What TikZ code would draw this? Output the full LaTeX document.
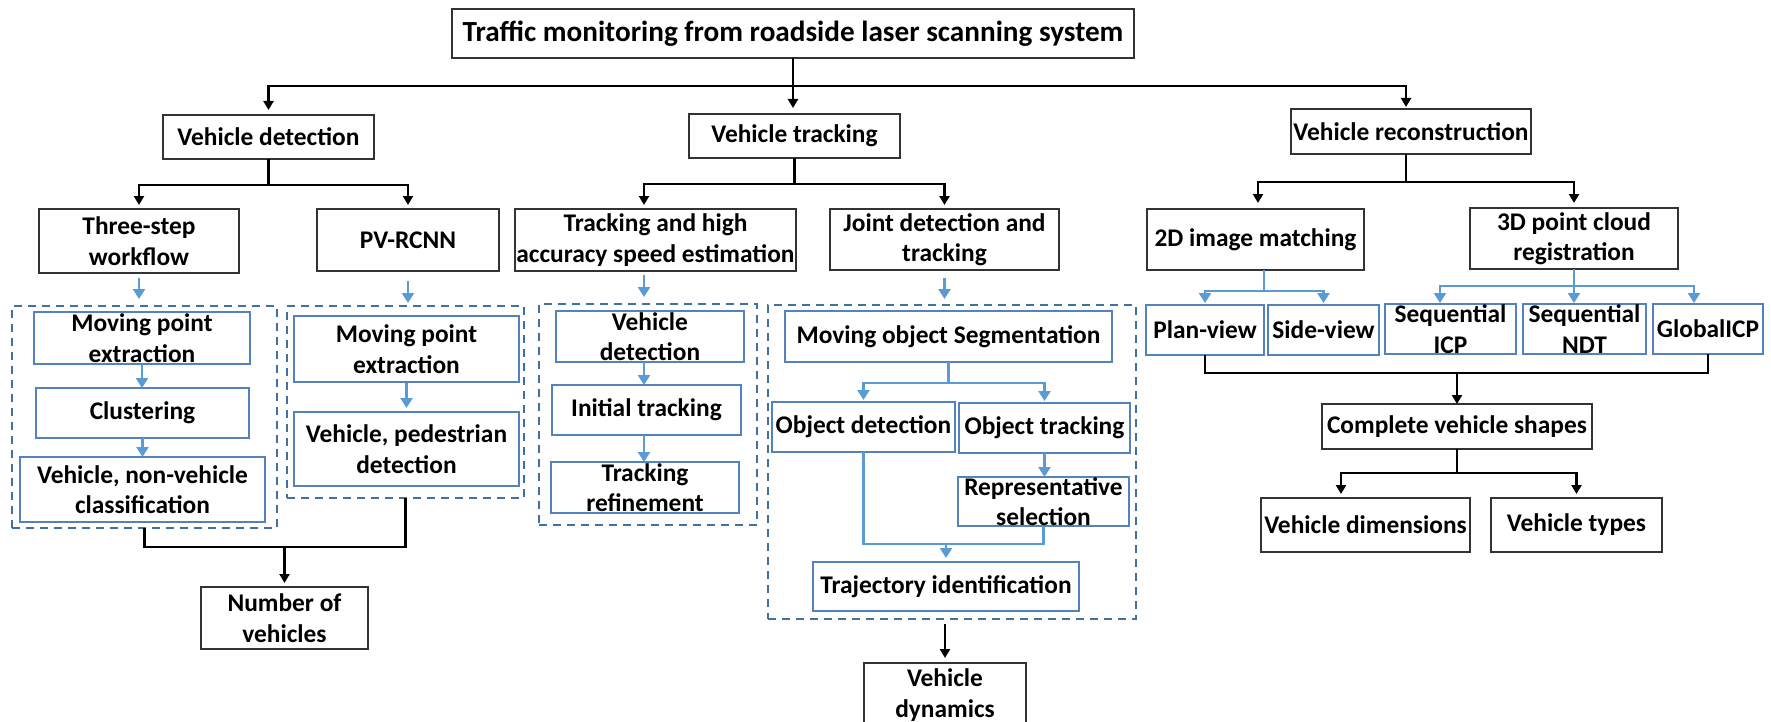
\documentclass[tikz,border=0pt]{standalone}
\usepackage{fontspec}
\setmainfont{Carlito}
\usetikzlibrary{fit,arrows.meta}
\definecolor{boxblue}{RGB}{84,130,190}
\definecolor{arrblue}{RGB}{91,155,213}
\definecolor{dashblue}{RGB}{65,113,156}
\tikzset{
  base/.style={inner sep=0pt, outer sep=0pt, fill=white},
  blkbox/.style={base, draw=black!80, line width=0.8pt},
  blubox/.style={base, draw=boxblue, line width=0.6pt},
  dshbox/.style={inner sep=0pt, outer sep=0pt, draw=dashblue, line width=1.2pt, dash pattern=on 4pt off 3pt},
  lbl/.style={font=\bfseries\fontsize{12.7}{15.2}\selectfont, align=center, inner sep=0pt},
  ttl/.style={font=\bfseries\fontsize{14.6}{17}\selectfont, align=center, inner sep=0pt},
  blkln/.style={draw=black, line width=1.2pt},
  blkarr/.style={blkln, -{Triangle[length=4.5pt,width=5pt]}},
  bluln/.style={draw=arrblue, line width=1.2pt},
  bluarr/.style={bluln, -{Triangle[length=5pt,width=6pt]}},
}
\newcommand\mybox[5]{\node[#1, fit={(#2) (#3)}, label={[lbl]center:{#5}}] (#4) {};}
\begin{document}
\begin{tikzpicture}[x=0.5pt,y=-0.5pt]
\useasboundingbox (0,0) rectangle (1771,722);
\clip (0,0) rectangle (1771,722);
% dashed groups
\node[dshbox, fit={(12,306) (277,528)}] (dash1) {};
\node[dshbox, fit={(287,306) (524,498)}] (dash2) {};
\node[dshbox, fit={(539,304) (757,525)}] (dash3) {};
\node[dshbox, fit={(768,305) (1136,619)}] (dash4) {};
% black boxes
\node[blkbox, fit={(452,9) (1134,58)}, label={[ttl]center:{Traffic monitoring from roadside laser scanning system}}] (title) {};
\mybox{blkbox}{163,115}{374,159}{vdet}{Vehicle detection}
\mybox{blkbox}{689,114}{900,158}{vtrk}{Vehicle tracking}
\mybox{blkbox}{1291,109}{1531,154}{vrec}{Vehicle reconstruction}
\mybox{blkbox}{39,209}{239,273}{three}{Three-step\\workflow}
\mybox{blkbox}{317,209}{499,271}{pvr}{PV-RCNN}
\mybox{blkbox}{515,209}{796,271}{thas}{Tracking and high\\accuracy speed estimation}
\mybox{blkbox}{830,209}{1059,270}{jdt}{Joint detection and\\tracking}
\mybox{blkbox}{1147,209}{1364,270}{imgd}{2D image matching}
\mybox{blkbox}{1470,208}{1678,269}{pcd}{3D point cloud\\registration}
\mybox{blkbox}{201,587}{368,649}{nveh}{Number of\\vehicles}
\mybox{blkbox}{864,663}{1026,727}{vdyn}{Vehicle\\dynamics}
\mybox{blkbox}{1322,404}{1592,449}{cvs}{Complete vehicle shapes}
\mybox{blkbox}{1261,498}{1470,552}{vdim}{Vehicle dimensions}
\mybox{blkbox}{1491,498}{1662,552}{vtyp}{Vehicle types}
% blue boxes
\mybox{blubox}{34,312}{250,364}{mpea}{Moving point\\extraction}
\mybox{blubox}{36,388}{249,438}{clu}{Clustering}
\mybox{blubox}{20,457}{265,522}{vnvc}{Vehicle, non-vehicle\\classification}
\mybox{blubox}{294,316}{519,382}{mpeb}{Moving point\\extraction}
\mybox{blubox}{294,412}{519,486}{vpd}{Vehicle, pedestrian\\detection}
\mybox{blubox}{556,311}{744,362}{tvd}{Vehicle\\detection}
\mybox{blubox}{552,385}{741,435}{itr}{Initial tracking}
\mybox{blubox}{551,462}{739,513}{tref}{Tracking\\refinement}
\mybox{blubox}{785,311}{1112,362}{mos}{Moving object Segmentation}
\mybox{blubox}{772,402}{955,452}{odet}{Object detection}
\mybox{blubox}{959,403}{1130,453}{otrk}{Object tracking}
\mybox{blubox}{958,477}{1129,526}{rsel}{Representative\\selection}
\mybox{blubox}{813,562}{1079,611}{traj}{Trajectory identification}
\mybox{blubox}{1146,305}{1264,355}{plan}{Plan-view}
\mybox{blubox}{1268,305}{1379,355}{side}{Side-view}
\mybox{blubox}{1385,304}{1516,354}{sicp}{Sequential\\ICP}
\mybox{blubox}{1523,304}{1646,354}{sndt}{Sequential\\NDT}
\mybox{blubox}{1653,304}{1763,354}{gicp}{GlobalICP}
% helper coordinates
\coordinate (hub) at (793,86);
\coordinate (xa) at (644,0);
\coordinate (xb) at (1264,0);
\coordinate (xc) at (1440,0);
\coordinate (xe) at (1694,0);
\coordinate (xd) at (1341,0);
\coordinate (xr) at (1406,0);
% top level
\draw[blkarr, shorten >=3pt] (title.south) -- (title.south |- vtrk.north);
\draw[blkarr, shorten >=2.5pt] (hub) -| (vdet.north);
\draw[blkarr, shorten >=1pt] (hub) -| (xr |- vrec.north);
% vehicle detection
\draw[blkln] (vdet.south) -- (vdet.south |- 0,185);
\draw[blkarr, shorten >=2pt] (vdet.south |- 0,185) -| (three.north);
\draw[blkarr, shorten >=2pt] (vdet.south |- 0,185) -| (pvr.north);
\draw[bluarr, shorten <=2.5pt, shorten >=3.5pt] (three.south) -- (three.south |- dash1.north);
\draw[bluarr, shorten <=5pt, shorten >=1.5pt] (pvr.south) -- (pvr.south |- dash2.north);
\draw[bluarr] (mpea.south) -- (mpea.south |- clu.north);
\draw[bluarr] (clu.south) -- (clu.south |- vnvc.north);
\draw[bluarr, shorten <=0.5pt, shorten >=2pt] (mpeb.south) -- (mpeb.south |- vpd.north);
\draw[blkln] (dash1.south) -- (dash1.south |- 0,547) -- (dash2.south |- 0,547) -- (dash2.south);
\draw[blkarr, shorten >=2pt] (nveh.north |- 0,547) -- (nveh.north);
% vehicle tracking
\draw[blkln] (vtrk.south) -- (vtrk.south |- 0,184);
\draw[blkarr, shorten >=2pt] (vtrk.south |- 0,184) -| (xa |- thas.north);
\draw[blkarr, shorten >=2pt] (vtrk.south |- 0,184) -| (jdt.north);
\draw[bluarr, shorten <=2pt, shorten >=3.5pt] (xa |- thas.south) -- (xa |- dash3.north);
\draw[bluarr, shorten <=4pt, shorten >=3pt] (jdt.south) -- (jdt.south |- dash4.north);
\draw[bluarr] (xa |- tvd.south) -- (xa |- itr.north);
\draw[bluarr] (xa |- itr.south) -- (xa |- tref.north);
\draw[bluln] (mos.south) -- (mos.south |- 0,383);
\draw[bluarr, shorten >=1pt] (mos.south |- 0,383) -| (odet.north);
\draw[bluarr, shorten >=1pt] (mos.south |- 0,383) -| (otrk.north);
\draw[bluarr] (otrk.south) -- (otrk.south |- rsel.north);
\draw[bluln] (odet.south) |- (rsel.south |- 0,544) -- (rsel.south);
\draw[bluarr, shorten >=2pt] (traj.north |- 0,544) -- (traj.north);
\draw[blkarr, shorten <=2.5pt, shorten >=2.5pt] (vdyn.north |- dash4.south) -- (vdyn.north);
% vehicle reconstruction
\draw[blkln] (xr |- vrec.south) -- (xr |- 0,182);
\draw[blkarr, shorten >=3pt] (xr |- 0,182) -| ([xshift=1.25pt]imgd.north);
\draw[blkarr, shorten >=2.5pt] (xr |- 0,182) -| (pcd.north);
\draw[bluln] (xb |- imgd.south) -- (xb |- 0,291);
\draw[bluarr, shorten >=1pt] (xb |- 0,291) -| (plan.north);
\draw[bluarr, shorten >=1pt] (xb |- 0,291) -| (side.north);
\draw[bluarr, shorten >=0.5pt] (pcd.south) -- (pcd.south |- sndt.north);
\draw[bluarr, shorten >=0.5pt] (pcd.south |- 0,286) -| (xc |- sicp.north);
\draw[bluarr, shorten >=0.5pt] (pcd.south |- 0,286) -| (xe |- gicp.north);
\draw[blkln] (plan.south) |- (gicp.south |- 0,373) -- (gicp.south);
\draw[blkarr] (cvs.north |- 0,373) -- (cvs.north);
\draw[blkln] (cvs.south) -- (cvs.south |- 0,473);
\draw[blkarr, shorten >=2pt] (cvs.south |- 0,473) -| (xd |- vdim.north);
\draw[blkarr, shorten >=2pt] (cvs.south |- 0,473) -| (vtyp.north);
\end{tikzpicture}
\end{document}
